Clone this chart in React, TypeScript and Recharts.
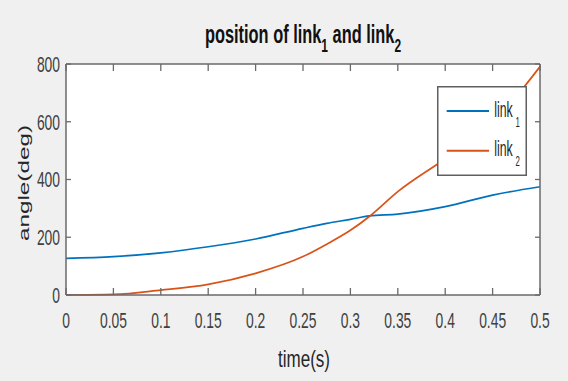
import React from 'react';
import { LineChart, Line, XAxis, YAxis, Legend } from 'recharts';

const times = [0, 0.05, 0.1, 0.15, 0.2, 0.25, 0.275, 0.3, 0.32, 0.35, 0.4, 0.45, 0.5];
const link1 = [127, 133, 146, 167, 194, 231, 248, 262, 274, 280, 306, 346, 375];
const link2 = [0, 2, 17, 37, 75, 133, 176, 224, 272, 358, 472, 595, 791];
const xTicks = [0, 0.05, 0.1, 0.15, 0.2, 0.25, 0.3, 0.35, 0.4, 0.45, 0.5];
const yTicks = [0, 200, 400, 600, 800];
const seriesNames = ['link1', 'link2'];
const titleText = 'position of link';
const xLabel = 'time(s)';
const yLabel = 'angle(deg)';

const data = times.map((t, i) => ({ t, link1: link1[i], link2: link2[i] }));

const FONT = 'Liberation Sans, Arial, Helvetica, sans-serif';
const BLUE = '#0072BD';
const ORANGE = '#D95319';
const AXIS = '#6a6a6a';

const fmt = (v: number) => String(Number(v.toFixed(2)));

// recharts keeps the default 6px tick size in the label offset even with tickLine off
const XTick = (props: any) => {
  const { x, y, payload } = props;
  return (
    <g>
      <line x1={x} x2={x} y1={y - 33} y2={y - 40} stroke={AXIS} strokeWidth={1.3} />
      <g transform={`translate(${x},${y}) scale(0.63,1)`}>
        <text x={0} y={0} textAnchor="middle" fontSize={22} fill="#404040" fontFamily={FONT}>
          {fmt(payload.value)}
        </text>
      </g>
    </g>
  );
};

const TopTick = (props: any) => {
  const { x, y } = props;
  return <line x1={x} x2={x} y1={y + 6} y2={y + 13} stroke={AXIS} strokeWidth={1.3} />;
};

const YTick = (props: any) => {
  const { x, y, payload } = props;
  return (
    <g>
      <line x1={x + 6} x2={x + 11} y1={y} y2={y} stroke={AXIS} strokeWidth={1.3} />
      <g transform={`translate(${x},${y}) scale(0.63,1)`}>
        <text x={0} y={0} dy="0.36em" textAnchor="end" fontSize={22} fill="#404040" fontFamily={FONT}>
          {String(payload.value)}
        </text>
      </g>
    </g>
  );
};

const RightTick = (props: any) => {
  const { x, y } = props;
  return <line x1={x - 6} x2={x - 11} y1={y} y2={y} stroke={AXIS} strokeWidth={1.3} />;
};

const LegendBox = (props: any) => {
  const items = props.payload || [];
  return (
    <svg width={90} height={90} style={{ display: 'block' }}>
      <rect x={0.75} y={0.75} width={88.5} height={88.5} fill="#fff" stroke="#5f5f5f" strokeWidth={1.5} />
      {items.map((it: any, i: number) => {
        const cy = 25 + i * 39.7;
        const name = String(it.value);
        const base = name.slice(0, -1);
        const sub = name.slice(-1);
        return (
          <g key={name}>
            <line x1={9.7} x2={52} y1={cy} y2={cy} stroke={it.color} strokeWidth={2} />
            <g transform={`translate(57.3,${cy + 5.7}) scale(0.56,1)`}>
              <text x={0} y={0} fontSize={22} fill="#262626" fontFamily={FONT}>
                {base}
                <tspan fontSize={14} dx={5} dy={10}>{sub}</tspan>
              </text>
            </g>
          </g>
        );
      })}
    </svg>
  );
};

export default function App() {
  return (
    <div style={{ position: 'absolute', left: 0, top: 0, width: 568, height: 381, background: '#f0f0f0' }}>
      <div style={{ position: 'absolute', left: 66, top: 64, width: 474, height: 231, background: '#ffffff' }} />
      <LineChart
        width={568}
        height={381}
        data={data}
        margin={{ top: 63, right: 27, bottom: 0, left: 0 }}
      >
        <XAxis
          dataKey="t"
          type="number"
          domain={[0, 0.5]}
          ticks={xTicks}
          height={86}
          tick={<XTick />}
          tickLine={false}
          tickMargin={27}
          stroke={AXIS}
          strokeWidth={1.5}
          interval={0}
        />
        <XAxis
          xAxisId="top"
          dataKey="t"
          orientation="top"
          type="number"
          domain={[0, 0.5]}
          ticks={xTicks}
          height={1}
          tick={<TopTick />}
          tickLine={false}
          tickMargin={0}
          stroke={AXIS}
          strokeWidth={1.5}
          interval={0}
        />
        <YAxis
          type="number"
          domain={[0, 800]}
          ticks={yTicks}
          width={66}
          tick={<YTick />}
          tickLine={false}
          tickMargin={0}
          stroke={AXIS}
          strokeWidth={1.5}
          interval={0}
        />
        <YAxis
          yAxisId="right"
          dataKey="link2"
          orientation="right"
          type="number"
          domain={[0, 800]}
          allowDataOverflow
          ticks={yTicks}
          width={1}
          tick={<RightTick />}
          tickLine={false}
          tickMargin={0}
          stroke={AXIS}
          strokeWidth={1.5}
          interval={0}
        />
        <Line
          type="monotone"
          dataKey="link1"
          name={seriesNames[0]}
          stroke={BLUE}
          strokeWidth={1.7}
          dot={false}
          isAnimationActive={false}
        />
        <Line
          type="monotone"
          dataKey="link2"
          name={seriesNames[1]}
          stroke={ORANGE}
          strokeWidth={1.7}
          dot={false}
          isAnimationActive={false}
        />
        <Legend
          layout="horizontal"
          verticalAlign="middle"
          align="center"
          content={<LegendBox />}
          wrapperStyle={{ left: 437, top: 86, width: 90, height: 90 }}
        />
      </LineChart>
      <svg
        width={568}
        height={381}
        style={{ position: 'absolute', left: 0, top: 0, pointerEvents: 'none' }}
      >
        <g transform="translate(303,43) scale(0.63,1)">
          <text x={0} y={0} textAnchor="middle" fontSize={26} fontWeight="bold" fill="#111" fontFamily={FONT}>
            {titleText}
            <tspan fontSize={19} dy={9}>1</tspan>
            <tspan dy={-9}> and link</tspan>
            <tspan fontSize={19} dy={9}>2</tspan>
          </text>
        </g>
        <g transform="translate(304,366.7) scale(0.71,1)">
          <text x={0} y={0} textAnchor="middle" fontSize={24} fill="#262626" fontFamily={FONT}>
            {xLabel}
          </text>
        </g>
        <g transform="translate(28.5,183) rotate(-90) scale(1.62,1)">
          <text x={0} y={0} textAnchor="middle" fontSize={15} fill="#262626" fontFamily={FONT}>
            {yLabel}
          </text>
        </g>
      </svg>
    </div>
  );
}
